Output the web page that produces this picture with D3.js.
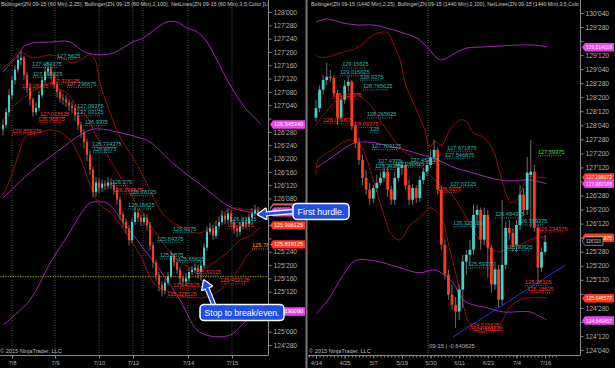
<!DOCTYPE html>
<html><head><meta charset="utf-8">
<script src="https://cdn.jsdelivr.net/npm/d3@7"></script>
<style>html,body{margin:0;padding:0;background:#000;overflow:hidden}svg{display:block;font-family:"Liberation Sans",Arial,sans-serif}</style>
</head><body><svg id="c" width="615" height="368"></svg>
<script>
// ---------------- DATA ----------------
const LEFT_HEADER = "Bollinger(ZN 09-15 (60 Min),2,25), Bollinger(ZN 09-15 (60 Min),2,100), NetLines(ZN 09-15 (60 Min),3,5,Color [Lim";
const RIGHT_HEADER = "Bollinger(ZN 09-15 (1440 Min),2,25), Bollinger(ZN 09-15 (1440 Min),2,100), NetLines(ZN 09-15 (1440 Min),3,5,Colo";
const COPYRIGHT = "\u00a9 2015 NinjaTrader, LLC";

const LEFT_TICKS = ["128'000","127'280","127'240","127'200","127'160","127'120","127'080","127'040","127'000","126'280","126'240","126'200","126'160","126'120","126'080","126'040","126'000","125'280","125'240","125'200","125'160","125'120","125'080","125'040","125'000","124'280"];
const RIGHT_TICKS = ["130'040","129'280","129'200","129'120","129'040","128'280","128'200","128'120","128'040","127'280","127'200","127'120","127'040","126'280","126'200","126'120","126'040","125'280","125'200","125'120","125'040","124'280","124'200","124'120","124'040"];

const LEFT_DATES = ["7/8","7/9","7/10","7/12","7/14","7/15"];
const LEFT_DATE_IDX = [3,17.33,32,43.33,61.67,76.33];
const LEFT_GRID_IDX = [3,17.33,32,43.33,46.67,61.67,76.33];
const RIGHT_DATES = ["4/14","4/25","5/7","5/19","5/30","6/11","6/23","7/4","7/16"];
const RIGHT_DATE_IDX = [0,8,16,24,32,40,48,56,64];
const RIGHT_ROLL_IDX = 31.3;
const RIGHT_ROLL_TEXT = "09-15 | -0.640625";

// 60 min bars (ZN 09-15)
const leftOpen  = [126.90,126.94,127.06,127.22,127.36,127.46,127.55,127.57,127.41,127.29,127.18,127.06,127.10,127.22,127.36,127.44,127.47,127.41,127.32,127.25,127.19,127.18,127.15,127.12,127.10,127.03,126.94,126.87,126.78,126.66,126.52,126.31,126.40,126.35,126.39,126.37,126.40,126.38,126.33,126.24,126.10,126.03,125.97,125.86,126.03,126.12,126.07,126.03,126.07,126.00,125.81,125.65,125.53,125.44,125.39,125.46,125.52,125.71,125.65,125.58,125.50,125.47,125.50,125.56,125.58,125.60,125.56,125.62,125.79,125.94,125.97,125.90,125.99,126.03,126.09,126.05,126.11,126.03,125.97,125.94,125.99,126.03,126.01,126.07,126.11,126.14];
const leftHigh  = [126.99,127.10,127.27,127.40,127.50,127.60,127.63,127.59,127.44,127.33,127.20,127.15,127.26,127.40,127.50,127.53,127.50,127.44,127.35,127.28,127.23,127.22,127.18,127.16,127.13,127.06,126.97,126.90,126.81,126.70,126.55,126.45,126.44,126.43,126.42,126.45,126.44,126.41,126.36,126.27,126.13,126.06,126.00,126.07,126.17,126.15,126.10,126.11,126.10,126.03,125.84,125.68,125.56,125.47,125.50,125.56,125.76,125.74,125.68,125.61,125.53,125.55,125.60,125.62,125.64,125.63,125.66,125.83,125.99,126.02,126.00,126.04,126.08,126.14,126.12,126.16,126.14,126.06,126.00,126.03,126.07,126.06,126.11,126.16,126.19,126.17];
const leftLow   = [126.84,126.91,127.02,127.18,127.32,127.43,127.50,127.36,127.24,127.12,127.02,127.03,127.07,127.19,127.33,127.40,127.37,127.28,127.20,127.15,127.13,127.11,127.07,127.05,126.98,126.89,126.82,126.72,126.60,126.47,126.26,126.27,126.30,126.31,126.33,126.34,126.34,126.29,126.19,126.05,125.98,125.92,125.81,125.83,126.00,126.03,125.99,126.00,125.95,125.76,125.60,125.48,125.38,125.33,125.35,125.43,125.50,125.61,125.54,125.45,125.42,125.44,125.47,125.53,125.55,125.50,125.48,125.59,125.76,125.91,125.86,125.87,125.96,126.00,126.01,126.02,125.99,125.92,125.89,125.90,125.96,125.97,125.98,126.04,126.08,126.09];
const leftClose = [126.94,127.06,127.22,127.36,127.46,127.55,127.57,127.41,127.29,127.18,127.06,127.10,127.22,127.36,127.44,127.47,127.41,127.32,127.25,127.19,127.18,127.15,127.12,127.10,127.03,126.94,126.87,126.78,126.66,126.52,126.31,126.40,126.35,126.39,126.37,126.40,126.38,126.33,126.24,126.10,126.03,125.97,125.86,126.03,126.12,126.07,126.03,126.07,126.00,125.81,125.65,125.53,125.44,125.39,125.46,125.52,125.71,125.65,125.58,125.50,125.47,125.50,125.56,125.58,125.60,125.56,125.62,125.79,125.94,125.97,125.90,125.99,126.03,126.09,126.05,126.11,126.03,125.97,125.94,125.99,126.03,126.01,126.07,126.11,126.14,126.12];

// daily bars (ZN 09-15)
const rightOpen  = [128.26,128.43,128.76,128.93,128.99,128.97,128.70,128.26,128.58,128.83,128.90,128.11,127.81,127.51,127.19,126.98,126.82,127.01,127.10,127.19,127.30,126.98,126.80,127.19,127.37,127.42,127.06,126.80,127.01,126.83,127.15,127.30,127.42,127.55,127.69,126.98,126.00,125.47,125.11,124.93,124.81,125.20,125.70,125.82,125.91,126.53,126.62,126.09,126.53,125.95,125.29,125.56,125.02,125.64,126.30,126.21,126.00,126.35,126.89,126.62,127.24,127.30,126.30,125.59,125.87];
const rightHigh  = [128.58,128.84,129.02,129.24,129.11,129.02,128.76,128.67,128.93,129.00,128.93,128.19,127.90,127.60,127.33,127.10,127.06,127.24,127.30,127.42,127.37,127.05,127.30,127.47,127.51,127.47,127.15,127.08,127.06,127.22,127.37,127.51,127.69,127.87,127.72,127.06,126.09,125.56,125.29,125.07,125.29,125.82,125.91,126.09,126.71,126.71,126.66,126.66,126.62,126.00,125.70,125.64,126.80,126.41,126.44,126.30,126.44,127.06,127.01,127.56,127.87,127.42,126.35,125.95,126.17];
const rightLow   = [128.19,128.36,128.67,128.84,128.90,128.65,128.13,128.19,128.51,128.72,128.04,127.72,127.42,127.06,126.89,126.71,126.74,126.94,127.05,127.12,126.85,126.71,126.71,127.12,127.24,126.98,126.71,126.71,126.74,126.76,127.08,127.22,127.37,127.47,126.89,125.91,125.38,125.02,124.84,124.52,124.66,124.88,125.47,125.64,125.82,126.36,125.91,126.00,125.41,125.14,125.20,124.89,124.93,125.56,126.09,125.87,125.87,126.26,126.53,126.53,126.30,126.23,125.34,125.52,125.82];
const rightClose = [128.43,128.76,128.93,128.99,128.97,128.70,128.26,128.58,128.83,128.90,128.11,127.81,127.51,127.19,126.98,126.82,127.01,127.10,127.19,127.30,126.98,126.80,127.19,127.37,127.42,127.06,126.80,127.01,126.83,127.15,127.30,127.42,127.55,127.69,126.98,126.00,125.47,125.11,124.93,124.81,125.20,125.70,125.82,125.91,126.53,126.62,126.09,126.53,125.95,125.29,125.56,125.02,125.64,126.30,126.21,126.00,126.35,126.89,126.62,127.28,127.30,126.30,125.59,125.87,126.05];

// indicator lines: [bar index, price]
const leftBB100Upper = [[0,127.437],[2.3,127.512],[5.7,127.616],[6.7,127.672],[10,127.710],[16.7,127.719],[20,127.728],[22.3,127.719],[28,127.616],[35.7,127.606],[40,127.663],[43.3,127.719],[46.7,127.756],[51.3,127.850],[54.7,127.907],[58,127.907],[61.3,127.850],[64.7,127.813],[68,127.719],[71.3,127.550],[75.7,127.315],[80.7,127.100],[86,126.949]];
const leftBB100Mid = [[0,126.255],[10,126.518],[15.7,126.640],[24.7,126.827],[29,126.893],[32.3,126.902],[38,126.874],[45.7,126.818],[49,126.780],[57.3,126.565],[67.3,126.349],[75.7,126.171],[86,126.105]];
const leftBB100Lower = [[0,125.063],[9,125.298],[15.7,125.645],[21.3,125.889],[29,126.208],[32.3,126.217],[34.7,126.208],[41.3,125.983],[49,125.701],[52.3,125.579],[59,125.298],[64.7,125.016],[69,124.960],[75.7,124.969],[80.7,125.091],[86,125.195]];
const leftBB25Upper = [[0,127.475],[3,127.550],[5,127.625],[6.7,127.616],[10,127.569],[15.7,127.597],[20,127.569],[23,127.522],[25.7,127.550],[29,127.597],[30.7,127.550],[32.3,127.334],[35.7,127.053],[39,126.827],[42.3,126.677],[45.7,126.518],[49,126.330],[52.3,126.142],[56.3,126.030],[60,125.973],[64,125.926],[66.7,125.936],[70,126.002],[73.3,126.114],[77.3,126.161],[81.3,126.142],[86,126.152]];
const leftBB25Mid = [[0,126.987],[4,127.128],[7.3,127.203],[12.3,127.297],[15.7,127.334],[18,127.287],[21.3,127.240],[24.7,127.109],[28,127.015],[31.3,126.827],[35.7,126.612],[40.7,126.377],[45.7,126.142],[50.7,125.936],[55.7,125.748],[60.7,125.626],[65.7,125.579],[70.7,125.654],[75.7,125.767],[79,125.861],[82.3,125.898],[86,125.983]];
const leftBB25Lower = [[0,126.283],[2.3,126.424],[5.7,126.705],[7.3,126.827],[12.3,126.874],[15.7,126.893],[19,126.874],[22.3,126.799],[25.7,126.630],[29,126.377],[32.3,126.189],[35.7,126.124],[40.7,125.936],[45.7,125.720],[50.7,125.439],[55.7,125.373],[60.7,125.326],[68,125.326],[72.3,125.392],[76.7,125.514],[80,125.654],[82.3,125.748],[86,125.814]];
const leftGreenLevel = 125.515625;

const rightBB100Upper = [[0,129.965],[3.1,130.019],[4.7,130.001],[7.5,129.947],[11.5,129.912],[15.9,129.912],[19.8,129.858],[23.5,129.787],[28.2,129.680],[31,129.520],[33.8,129.324],[35.2,129.289],[39.4,129.431],[42.2,129.502],[46.6,129.520],[51.4,129.538],[60.6,129.556],[64.5,129.520]];
const rightBB100Mid = [[0,127.367],[3.4,127.509],[7.3,127.687],[10.9,127.812],[13.7,127.829],[16.5,127.812],[21.2,127.741],[24.9,127.687],[29.6,127.598],[34.1,127.509],[38.8,127.367],[43,127.296],[48.6,127.189],[54.2,127.135],[59.8,127.153],[64.5,127.082]];
const rightBB100Lower = [[0,124.768],[3.4,125.017],[7.3,125.427],[10.9,125.711],[16.5,125.711],[23.5,125.587],[29,125.498],[32.7,125.551],[34.6,125.516],[38.3,125.320],[41.1,125.017],[43.9,124.928],[47.8,124.875],[52.2,124.803],[59.8,124.803],[61.7,124.750],[64.5,124.661]];
const rightBB25Upper = [[0,129.378],[0.6,129.342],[3.4,129.342],[6.7,129.413],[10,129.467],[12.8,129.556],[15.9,129.734],[18.7,129.787],[20.1,129.769],[21.5,129.591],[23.5,129.289],[24.9,128.879],[27.7,128.452],[30.4,128.043],[31.8,127.741],[33.2,127.829],[35.2,127.776],[37.4,128.043],[40.2,128.221],[42.2,128.186],[43.9,127.990],[46.6,127.918],[49.4,127.687],[51.4,127.278],[53.4,126.850],[54.5,126.743],[56.1,126.797],[57.8,127.028],[59.2,127.207],[61.7,127.207],[64.5,127.189]];
const rightBB25Mid = [[0,128.132],[2.5,128.346],[6.1,128.577],[8.9,128.630],[11.7,128.666],[15.6,128.452],[18.4,128.168],[21.2,127.918],[24,127.687],[26.8,127.563],[29.6,127.385],[32.4,127.207],[35.2,127.028],[38,126.886],[40.8,126.619],[43.6,126.299],[46.4,126.032],[49.2,125.907],[51.4,125.871],[54.2,125.960],[57,125.996],[59.8,126.085],[64.5,126.156]];
const rightBB25Lower = [[0,127.242],[0.6,127.509],[4.5,127.687],[7.3,127.812],[9.5,127.865],[12.3,127.776],[15.6,127.242],[18.7,126.583],[21.2,126.174],[23.5,126.085],[26.3,126.352],[29,126.476],[31.8,126.654],[34.6,126.530],[37.4,125.907],[40.2,125.195],[43,124.572],[45.8,124.447],[48.6,124.483],[50.6,124.483],[52.2,124.661],[54.2,124.892],[57,125.017],[59.8,125.053],[64.5,125.053]];
const rightTrend = [[38.3,124.358],[69.6,125.638]];

// NetLines level labels: [text(=price), bar index, colour key]
const leftLevels = [["127.5625",18,"t"],["127.484375",9.7,"t"],["127.390625",10,"t"],["127.296875",21.3,"t"],["127.09375",24.7,"t"],["127.03125",24.7,"t"],["126.9375",27.3,"t"],["126.734375",29.7,"t"],["126.6875",30,"t"],["126.375",36.3,"t"],["126.28125",42.3,"t"],["126.15625",41.7,"t"],["125.9375",56.7,"t"],["125.84375",51.3,"t"],["125.6875",52.3,"t"],["125.65625",58.3,"t"],["126.03125",75.7,"t"],
  ["127.28125",6.3,"r"],["127.328125",15.7,"r"],["127.015625",12.3,"r"],["126.96875",11.7,"r"],["126.859375",3,"r"],["126.296875",36.7,"r"],["125.40625",56.7,"r"],["125.328125",54.7,"r"],["125.453125",72.3,"r"],["125.53125",64,"r"],["125.96875",74.7,"r"],["125.781",83,"o"]];
const rightLevels = [["129.15625",7.3,"t"],["129.015625",6.7,"t"],["128.9375",12.3,"t"],["128.765625",13.1,"t"],["128.265625",14.2,"t"],["128",15.1,"t"],["127.703125",15.6,"t"],["127.4375",17.3,"t"],["127.453125",26.3,"t"],["127.34375",16.5,"t"],["127.390625",22,"t"],["127.671875",36.6,"t"],["127.546875",36,"t"],["127.03125",37.4,"t"],["126.328125",38.3,"t"],["126.484375",50,"t"],["126.359375",56.4,"t"],["125.59375",42.4,"t"],["125.90625",53.1,"t"],
  ["127.59375",62,"g"],
  ["128.609375",4.5,"r"],["128.171875",2,"r"],["128.09375",10,"r"],["126.9375",34,"r"],["126.234375",62,"r"],["125.28125",58.4,"r"],["125.15625",59,"r"],["124.515625",43,"r"],["124.453125",43.9,"r"]];

// price markers on the axes: [value, text, kind]
const leftMarkers = [[126.945,"126.945340","p"],[126.165,"126.159375","r"],[126.15,"126'020","k"],[126.12,"126.124219","p"],[125.998,"125.998125","r"],[125.819,"125.819125","r"],[125.19,"125.190090","p"]];
const rightMarkers = [[129.514018,"129.514018","p"],[127.198072,"127.198072","r"],[127.082188,"127.082188","p"],[126.121875,"126.121875","r"],[126.0625,"126'020","k"],[125.046577,"125.046577","r"],[124.649457,"124.649457","p"]];

const CALLOUT_TEXT = ["First hurdle.","Stop to break/even."];

// ---------------- DRAW ----------------
const svg = d3.select("#c");
svg.append("rect").attr("width",615).attr("height",368).attr("fill","#000");
const parse32 = s => { const [a,b] = s.split("'"); return +a + (+b)/320; };

const PLOT_BOTTOM = 355;
const L = {x0:0, x1:268};
const R = {x0:310, x1:580};

const xL = d3.scaleLinear().domain([0,85]).range([3,258]);
const yL = d3.scaleLinear().domain([128.1126,124.7813]).range([0,PLOT_BOTTOM]);
const xR = d3.scaleLinear().domain([0,64]).range([316,545.1]);
const yR = d3.scaleLinear().domain([130.3565,124.0354]).range([0,PLOT_BOTTOM]);

const COL = {t:"#2bb7b2", r:"#ff3326", o:"#e89b1c", g:"#33e633"};
const UP = "#45cfc9", DOWN = "#ff3b1c", WICK = "#8c8c8c";
const RED25 = "#9b0d0d", PURPLE = "#a525b5";

const defs = svg.append("defs");
defs.append("clipPath").attr("id","clipL").append("rect").attr("x",0).attr("y",0).attr("width",L.x1).attr("height",PLOT_BOTTOM);
defs.append("clipPath").attr("id","clipR").append("rect").attr("x",R.x0).attr("y",0).attr("width",R.x1-R.x0).attr("height",PLOT_BOTTOM);
defs.append("clipPath").attr("id","clipHL").append("rect").attr("x",0).attr("y",0).attr("width",L.x1).attr("height",12);
defs.append("clipPath").attr("id","clipHR").append("rect").attr("x",R.x0).attr("y",0).attr("width",R.x1-R.x0).attr("height",12);

function panel(clipId, xs, ys, o, h, l, c, bw, lines, levels, extra) {
  const g = svg.append("g").attr("clip-path",`url(#${clipId})`);
  extra && extra.before && extra.before(g);
  const line = d3.line().x(d=>xs(d[0])).y(d=>ys(d[1])).curve(d3.curveCatmullRom.alpha(0.5));
  lines.forEach(([data,col,w]) => g.append("path").datum(data).attr("d",line).attr("fill","none").attr("stroke",col).attr("stroke-width",w||1));
  const idx = d3.range(c.length);
  g.selectAll(null).data(idx).join("line")
    .attr("x1",i=>xs(i)).attr("x2",i=>xs(i)).attr("y1",i=>ys(h[i])).attr("y2",i=>ys(l[i]))
    .attr("stroke",WICK).attr("stroke-width",0.8);
  g.selectAll(null).data(idx).join("rect")
    .attr("x",i=>xs(i)-bw/2).attr("width",bw)
    .attr("y",i=>ys(Math.max(o[i],c[i])))
    .attr("height",i=>Math.max(1,Math.abs(ys(o[i])-ys(c[i]))))
    .attr("fill",i=>c[i]>=o[i]?UP:DOWN);
  levels.forEach(([t,i,k]) => {
    const v = +t, x = xs(i), y = ys(v);
    g.append("line").attr("x1",x).attr("x2",x+t.length*2.55).attr("y1",y+0.5).attr("y2",y+0.5)
      .attr("stroke",COL[k]).attr("stroke-width",0.8).attr("stroke-dasharray","1,1.2");
    g.append("text").attr("x",x).attr("y",y-1).text(t).attr("fill",COL[k]).attr("font-size",5.6);
  });
  extra && extra.after && extra.after(g);
  return g;
}

panel("clipL", xL, yL, leftOpen, leftHigh, leftLow, leftClose, 2,
  [[leftBB100Upper,PURPLE],[leftBB100Mid,PURPLE],[leftBB100Lower,PURPLE],[leftBB25Upper,RED25],[leftBB25Mid,RED25],[leftBB25Lower,RED25]],
  leftLevels,
  {before: g => {
    g.selectAll(null).data(LEFT_GRID_IDX).join("line")
      .attr("x1",d=>xL(d)).attr("x2",d=>xL(d)).attr("y1",0).attr("y2",PLOT_BOTTOM)
      .attr("stroke","#6c6c6c").attr("stroke-width",0.8).attr("stroke-dasharray","1,1.5");
    g.append("line").attr("x1",0).attr("x2",L.x1).attr("y1",yL(leftGreenLevel)).attr("y2",yL(leftGreenLevel))
      .attr("stroke","#7c9a10").attr("stroke-width",1).attr("stroke-dasharray","1.5,1");
  }});

panel("clipR", xR, yR, rightOpen, rightHigh, rightLow, rightClose, 2.8,
  [[rightBB100Upper,PURPLE],[rightBB100Mid,PURPLE],[rightBB100Lower,PURPLE],[rightBB25Upper,RED25],[rightBB25Mid,RED25],[rightBB25Lower,RED25],[rightTrend,"#2233ee"]],
  rightLevels,
  {before: g => {
    g.append("line").attr("x1",xR(RIGHT_ROLL_IDX)).attr("x2",xR(RIGHT_ROLL_IDX)).attr("y1",0).attr("y2",PLOT_BOTTOM)
      .attr("stroke","#8a8a8a").attr("stroke-width",0.8).attr("stroke-dasharray","1,1.5");
    g.append("text").attr("x",xR(RIGHT_ROLL_IDX)+1).attr("y",348).text(RIGHT_ROLL_TEXT).attr("fill","#b5b5b5").attr("font-size",5.8);
  }});

// headers & copyright
svg.append("g").attr("clip-path","url(#clipHL)").append("text").attr("x",1).attr("y",6).text(LEFT_HEADER)
  .attr("fill","#c8c8c8").attr("font-size",6).attr("textLength",272).attr("lengthAdjust","spacingAndGlyphs");
svg.append("g").attr("clip-path","url(#clipHR)").append("text").attr("x",R.x0+1).attr("y",6).text(RIGHT_HEADER)
  .attr("fill","#c8c8c8").attr("font-size",6).attr("textLength",268).attr("lengthAdjust","spacingAndGlyphs");
svg.append("text").attr("x",0).attr("y",353).text(COPYRIGHT).attr("fill","#bdbdbd").attr("font-size",5.6);
svg.append("text").attr("x",R.x0-1).attr("y",353).text(COPYRIGHT).attr("fill","#bdbdbd").attr("font-size",5.6);

// frames
const fr = svg.append("g").attr("stroke","#8a8a8a").attr("stroke-width",1);
fr.append("line").attr("x1",L.x1+0.5).attr("x2",L.x1+0.5).attr("y1",0).attr("y2",PLOT_BOTTOM+0.5);
fr.append("line").attr("x1",0).attr("x2",L.x1+0.5).attr("y1",PLOT_BOTTOM+0.5).attr("y2",PLOT_BOTTOM+0.5);
fr.append("line").attr("x1",R.x1+0.5).attr("x2",R.x1+0.5).attr("y1",0).attr("y2",PLOT_BOTTOM+0.5);
fr.append("line").attr("x1",R.x0-3).attr("x2",R.x1+0.5).attr("y1",PLOT_BOTTOM+0.5).attr("y2",PLOT_BOTTOM+0.5);

// axes (tick texts hidden where an axis price marker covers them)
function styleAxis(sel, fs) {
  sel.select(".domain").remove();
  sel.selectAll(".tick line").attr("stroke","#8a8a8a");
  sel.selectAll(".tick text").attr("fill","#b0b0b0").attr("font-size",fs).attr("font-family","Liberation Sans, Arial, sans-serif");
}
function yTickFmt(labels, ys, marks) {
  return (d,i) => marks.some(m => Math.abs(ys(m[0]) - ys(d)) < 7) ? "" : labels[i];
}
svg.append("g").attr("transform",`translate(${L.x1+0.5},0)`)
  .call(d3.axisRight(yL).tickValues(LEFT_TICKS.map(parse32)).tickFormat(yTickFmt(LEFT_TICKS,yL,leftMarkers)).tickSize(3).tickPadding(2))
  .call(s=>styleAxis(s,6.7));
svg.append("g").attr("transform",`translate(${R.x1+0.5},0)`)
  .call(d3.axisRight(yR).tickValues(RIGHT_TICKS.map(parse32)).tickFormat(yTickFmt(RIGHT_TICKS,yR,rightMarkers)).tickSize(3).tickPadding(2))
  .call(s=>styleAxis(s,6.7));
svg.append("g").attr("transform",`translate(0,${PLOT_BOTTOM+0.5})`)
  .call(d3.axisBottom(xL).tickValues(LEFT_DATE_IDX).tickFormat((d,i)=>LEFT_DATES[i]).tickSize(3).tickPadding(2))
  .call(s=>styleAxis(s,5.8));
svg.append("g").attr("transform",`translate(0,${PLOT_BOTTOM+0.5})`)
  .call(d3.axisBottom(xR).tickValues(d3.range(-2,rightClose.length+3)).tickFormat("").tickSize(2))
  .call(s=>styleAxis(s,5.8));
svg.append("g").attr("transform",`translate(0,${PLOT_BOTTOM+0.5})`)
  .call(d3.axisBottom(xR).tickValues(RIGHT_DATE_IDX).tickFormat((d,i)=>RIGHT_DATES[i]).tickSize(3).tickPadding(2))
  .call(s=>styleAxis(s,5.8));

// separator between the two charts
svg.append("rect").attr("x",305).attr("y",0).attr("width",3).attr("height",368).attr("fill","#3a3a3a");
svg.append("line").attr("x1",306.5).attr("x2",306.5).attr("y1",0).attr("y2",368).attr("stroke","#777");

// axis price markers
const MCOL = {p:["#ee44ee","#ffffff"], r:["#ff3a1e","#ffffff"], k:["#000000","#d8d8d8"]};
function markers(arr, ys, ax, wide, kw) {
  arr.forEach(([v,t,k]) => {
    const y = ys(v), [f,tc] = MCOL[k];
    const w = k==="k" ? kw : wide;
    svg.append("path").attr("d",`M${ax+1},${y} L${ax+4},${y-4.2} L${ax+w},${y-4.2} L${ax+w},${y+4.2} L${ax+4},${y+4.2} Z`)
      .attr("fill",f).attr("stroke",k==="k"?"#9a9a9a":"none").attr("stroke-width",0.8);
    svg.append("text").attr("x",ax+5).attr("y",y+2).text(t).attr("fill",tc).attr("font-size",5.4)
      .attr("textLength", w-7).attr("lengthAdjust","spacingAndGlyphs");
  });
}
markers(leftMarkers, yL, L.x1+1, 36, 23);
markers(rightMarkers, yR, R.x1+1, 33, 22);

// callouts
function callout(text, tipX, tipY, bx, by, bw, bh, sx, sy) {
  const g = svg.append("g");
  const ang = Math.atan2(tipY-sy, tipX-sx);
  const hl = 8, hw = 5;
  const bxp = tipX - hl*Math.cos(ang), byp = tipY - hl*Math.sin(ang);
  const px = -Math.sin(ang), py = Math.cos(ang);
  const head = `M${tipX},${tipY} L${bxp+px*hw},${byp+py*hw} L${bxp-px*hw},${byp-py*hw} Z`;
  g.append("line").attr("x1",sx).attr("y1",sy).attr("x2",bxp).attr("y2",byp).attr("stroke","#fff").attr("stroke-width",5);
  g.append("path").attr("d",head).attr("fill","#fff").attr("stroke","#fff").attr("stroke-width",2.5).attr("stroke-linejoin","round");
  g.append("line").attr("x1",sx).attr("y1",sy).attr("x2",bxp).attr("y2",byp).attr("stroke","#1d4fe6").attr("stroke-width",2.8);
  g.append("path").attr("d",head).attr("fill","#1d4fe6");
  g.append("rect").attr("x",bx).attr("y",by).attr("width",bw).attr("height",bh).attr("rx",4)
    .attr("fill","#1d4fe6").attr("stroke","#fff").attr("stroke-width",1.5);
  g.append("text").attr("x",bx+bw/2).attr("y",by+bh/2+3.3).attr("text-anchor","middle").text(text)
    .attr("fill","#fff").attr("font-size",9.4).attr("textLength",bw-9).attr("lengthAdjust","spacingAndGlyphs");
}
{
  const tx = xL(85), ty = yL(126.10);
  callout(CALLOUT_TEXT[0], tx, ty, tx+35, ty-11, 56, 16, tx+37, ty-3);
  const sx = xL(67), sy = yL(125.48);
  callout(CALLOUT_TEXT[1], sx, sy, sx-4, sy+24, 84, 16, sx+10, sy+25);
}
</script></body></html>
